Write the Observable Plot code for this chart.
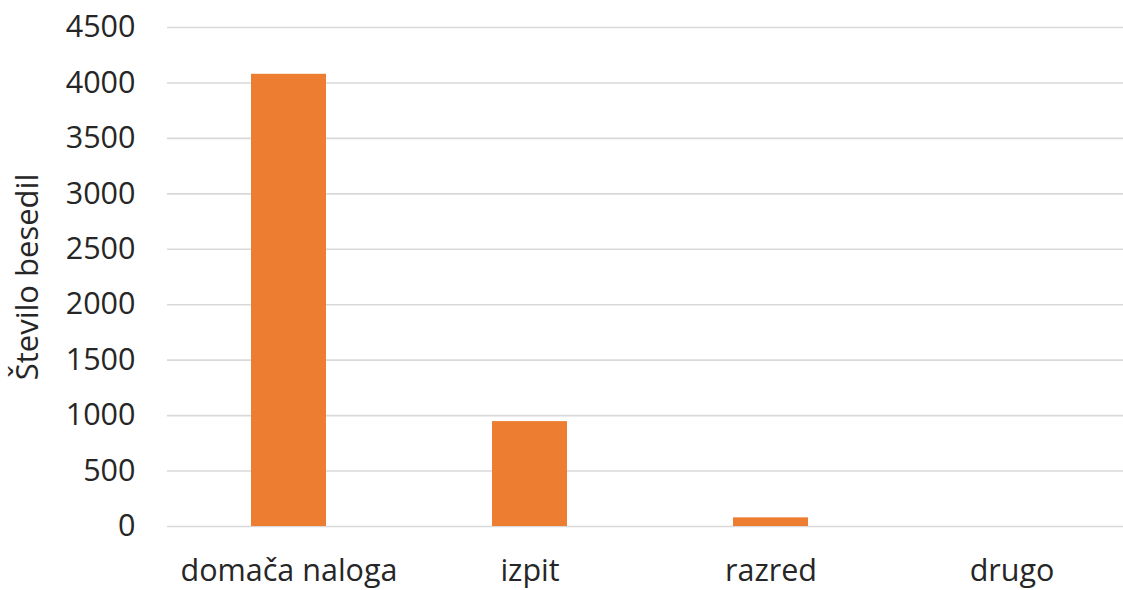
<!DOCTYPE html>
<html>
<head>
<meta charset="utf-8">
<script src="https://cdn.jsdelivr.net/npm/d3@7"></script>
<script src="https://cdn.jsdelivr.net/npm/@observablehq/plot@0.6"></script>
<style>
  html, body { margin: 0; padding: 0; background: #fff; }
</style>
</head>
<body>
<div id="chart"></div>
<script>
const categories = ["domača naloga", "izpit", "razred", "drugo"];
const values = [4078, 946, 78, 0];
const yTicks = [0, 500, 1000, 1500, 2000, 2500, 3000, 3500, 4000, 4500];
const yLabel = "Število besedil";

const data = categories.map((c, i) => ({ category: c, value: values[i] }));

const chart = Plot.plot({
  width: 1123,
  height: 590,
  marginLeft: 167,
  marginRight: 0,
  marginTop: 27,
  marginBottom: 64,
  style: { fontFamily: "'Open Sans', sans-serif", color: "#262626", background: "#fff" },
  x: { domain: categories, range: [167, 1133], paddingInner: 0.69, paddingOuter: 0.345, label: null },
  y: { domain: [0, 4500], ticks: yTicks, label: null },
  marks: [
    Plot.ruleY(yTicks, { stroke: "#d9d9d9", strokeWidth: 1.6 }),
    Plot.barY(data, { x: "category", y: "value", fill: "#ED7D31" }),
    Plot.axisY(yTicks, { tickSize: 0, tickPadding: 32, fontSize: 30.5, label: null, tickFormat: d => String(d) }),
    Plot.axisX({ tickSize: 0, tickPadding: 33, fontSize: 30.5, label: null }),
    Plot.text([yLabel], { frameAnchor: "left", dx: -139, rotate: -90, fontSize: 31, textAnchor: "middle", lineAnchor: "middle", fill: "#262626" })
  ]
});
document.getElementById("chart").appendChild(chart);
</script>
</body>
</html>
